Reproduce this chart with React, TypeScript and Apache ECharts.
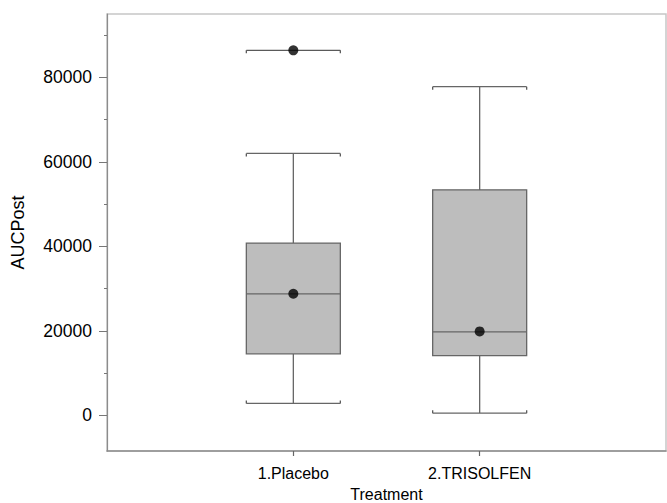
import React, { useEffect, useRef } from "react";
import * as echarts from "echarts";

// Categories (empty ends give the same spacing as the reference frame)
const categories = ["", "1.Placebo", "2.TRISOLFEN", ""];
// [min, Q1, median, Q3, max]
const placeboBox = [2850, 14600, 28800, 40800, 62000];
const trisolfenBox = [550, 14150, 19800, 53400, 77800];
// Outlier of Placebo
const placeboOutlier = 86400;
// Dots: [categoryIndex, value]
const dots = [
  [1, 86400],
  [1, 28800],
  [2, 19900],
];
const yMajorTicks = [0, 20000, 40000, 60000, 80000];
const yMinorTicks = [0, 10000, 20000, 30000, 40000, 50000, 60000, 70000, 80000, 90000];
const yMin = -8400;
const yMax = 95000;

const EMPTY = ["-", "-", "-", "-", "-"];

export default function App() {
  const ref = useRef<HTMLDivElement>(null);
  useEffect(() => {
    if (!ref.current) return;
    const chart = echarts.init(ref.current, null, { renderer: "svg" });
    const font = "'Liberation Sans', Arial, sans-serif";
    const boxData = [EMPTY, placeboBox, trisolfenBox, EMPTY];
    // [categoryIndex, value, hookDirection, drawFullCap]
    const capData: number[][] = [];
    [placeboBox, trisolfenBox].forEach((b, i) => {
      capData.push([i + 1, b[4], 1, 0]);
      capData.push([i + 1, b[0], -1, 0]);
    });
    capData.push([1, placeboOutlier, 1, 1]);
    const option: any = {
      animation: false,
      backgroundColor: "#ffffff",
      grid: {
        left: 107,
        right: 1,
        top: 14,
        bottom: 52,
        containLabel: false,
        outerBoundsMode: "none",
        show: true,
        borderColor: "#c6c6c6",
        borderWidth: 1.5,
        backgroundColor: "transparent",
      },
      xAxis: {
        type: "category",
        data: categories,
        boundaryGap: false,
        name: "Treatment",
        nameLocation: "middle",
        nameGap: 35,
        nameTextStyle: { fontFamily: font, fontSize: 16, color: "#000" },
        axisLine: { show: true, onZero: false, lineStyle: { color: "#8c8c8c", width: 1.5 } },
        axisTick: {
          show: true,
          length: 5,
          interval: (idx: number) => idx === 1 || idx === 2,
          lineStyle: { color: "#666", width: 1.2 },
        },
        axisLabel: {
          interval: (idx: number) => idx === 1 || idx === 2,
          margin: 14,
          fontFamily: font,
          fontSize: 16,
          color: "#000",
        },
        splitLine: { show: false },
      },
      yAxis: [
        {
          type: "value",
          min: yMin,
          max: yMax,
          name: "AUCPost",
          nameLocation: "middle",
          nameGap: 80,
          nameRotate: 90,
          nameTextStyle: { fontFamily: font, fontSize: 18, color: "#000" },
          axisLine: { show: true, onZero: false, lineStyle: { color: "#8c8c8c", width: 1.2 } },
          axisTick: { show: true, length: 8, customValues: yMajorTicks, lineStyle: { color: "#777", width: 1 } },
          axisLabel: {
            customValues: yMajorTicks,
            margin: 15,
            fontFamily: font,
            fontSize: 17.5,
            color: "#000",
            formatter: (v: number) => String(Math.round(v)),
          },
          splitLine: { show: false },
        },
        {
          type: "value",
          min: yMin,
          max: yMax,
          position: "left",
          axisLine: { show: false, onZero: false },
          axisTick: { show: true, length: 3, customValues: yMinorTicks, lineStyle: { color: "#777", width: 1 } },
          axisLabel: { show: false },
          splitLine: { show: false },
        },
      ],
      series: [
        {
          type: "boxplot",
          data: boxData,
          boxWidth: [94, 94],
          itemStyle: { color: "#bdbdbd", borderColor: "#666", borderWidth: 1.3 },
          silent: true,
        },
        {
          type: "custom",
          data: capData,
          silent: true,
          renderItem: (params: any, api: any) => {
            const p = api.coord([api.value(0), api.value(1)]);
            const dir = api.value(2);
            const full = api.value(3);
            const half = 47;
            const style = { stroke: "#5a5a5a", lineWidth: 1.3, fill: "none" };
            const children: any[] = [
              { type: "line", shape: { x1: p[0] - half, y1: p[1], x2: p[0] - half, y2: p[1] + dir * 3 }, style },
              { type: "line", shape: { x1: p[0] + half, y1: p[1], x2: p[0] + half, y2: p[1] + dir * 3 }, style },
            ];
            if (full) {
              children.push({ type: "line", shape: { x1: p[0] - half, y1: p[1], x2: p[0] + half, y2: p[1] }, style });
            }
            return { type: "group", children };
          },
        },
        {
          type: "scatter",
          data: dots,
          symbol: "circle",
          symbolSize: 10,
          itemStyle: { color: "#000" },
          silent: true,
          z: 5,
        },
      ],
    };
    chart.setOption(option);
    return () => chart.dispose();
  }, []);
  return (
    <div
      ref={ref}
      style={{ position: "fixed", left: 0, top: 0, width: 667, height: 503 }}
    />
  );
}
